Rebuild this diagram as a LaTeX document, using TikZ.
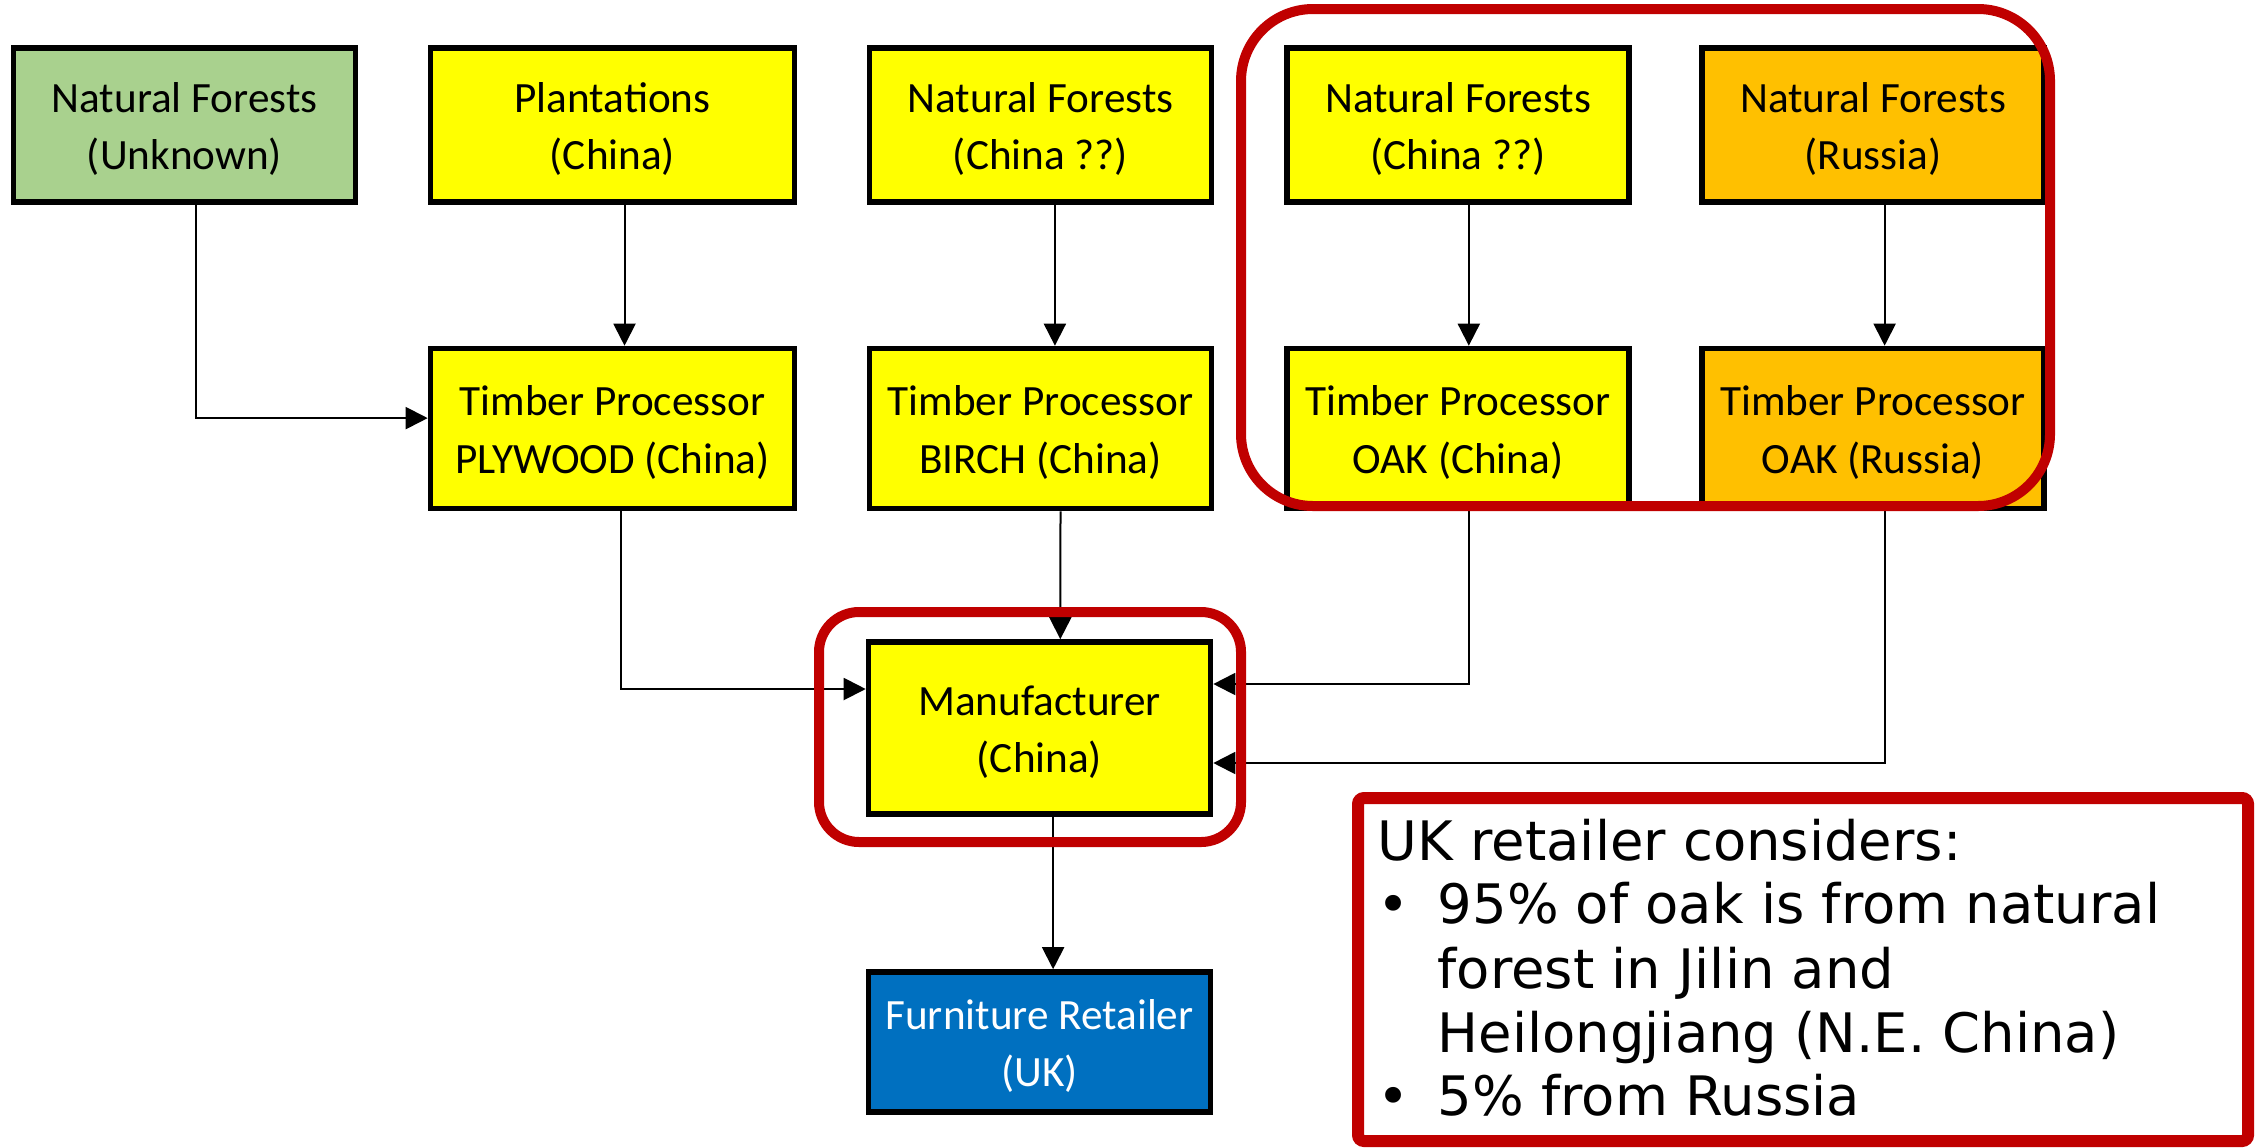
\documentclass[tikz,border=0pt]{standalone}
\usepackage{fontspec}
\setmainfont{Carlito}
\newfontfamily\infofont{DejaVu Sans}
\usetikzlibrary{arrows.meta,calc}
\definecolor{boxyellow}{HTML}{FFFF00}
\definecolor{boxgreen}{HTML}{A9D18E}
\definecolor{boxorange}{HTML}{FFC000}
\definecolor{boxblue}{HTML}{0070C0}
\definecolor{frame}{HTML}{C00000}
\newcommand{\twolines}[2]{\raisebox{-1.1pt}[\height][\depth]{\begin{tabular}{@{}c@{}}#1\\#2\end{tabular}}}
\begin{document}
\begin{tikzpicture}[x=0.25pt,y=-0.25pt,
  box/.style={draw=black, line width=1.4pt, inner sep=0pt,
    font=\fontsize{10.8}{14.4}\selectfont},
  colA/.style={minimum width=85.5pt, minimum height=38.6pt},
  colP/.style={minimum width=91pt, minimum height=38.6pt},
  rowT/.style={minimum height=40pt},
  arr/.style={line width=0.5pt, -{Triangle[length=5.5pt,width=5.5pt]}},
  redframe/.style={draw=frame, line width=2.5pt}]
\useasboundingbox (0,0) rectangle (2256,1147);
% top row
\node[box,colA,fill=boxgreen] (nfu) at (184.5,125) {\twolines{Natural Forests}{(Unknown)}};
\node[box,colP,fill=boxyellow] (plant) at (612.5,125) {\twolines{Plantations}{(China)}};
\node[box,colA,fill=boxyellow] (nfc1) at (1040.5,125) {\twolines{Natural Forests}{(China ??)}};
\node[box,colA,fill=boxyellow] (nfc2) at (1458,125) {\twolines{Natural Forests}{(China ??)}};
\node[box,colA,fill=boxorange] (nfr) at (1873,125) {\twolines{Natural Forests}{(Russia)}};
% processors
\node[box,colP,rowT,fill=boxyellow] (tpp) at (612.5,428.5) {\twolines{Timber Processor}{PLYWOOD (China)}};
\node[box,colA,rowT,fill=boxyellow] (tpb) at (1040.5,428.5) {\twolines{Timber Processor}{BIRCH (China)}};
\node[box,colA,rowT,fill=boxyellow] (tpoc) at (1458,428.5) {\twolines{Timber Processor}{OAK (China)}};
\node[box,colA,rowT,fill=boxorange] (tpor) at (1873,428.5) {\twolines{Timber Processor}{OAK (Russia)}};
% manufacturer and retailer
\node[box,colA,minimum height=43pt,fill=boxyellow] (man) at (1039.5,728) {\twolines{Manufacturer}{(China)}};
\node[box,colA,minimum height=35pt,fill=boxblue,text=white] (ret) at (1039.5,1042) {\twolines{Furniture Retailer}{(UK)}};
% connectors
\draw[arr] ([xshift=2.75pt]nfu.south) |- ([yshift=2.6pt]tpp.west);
\draw[arr] ([xshift=3pt]plant.south) -- ([xshift=3pt]tpp.north);
\draw[arr] ([xshift=3.6pt]nfc1.south) -- ([xshift=3.6pt]tpb.north);
\draw[arr] ([xshift=2.7pt]nfc2.south) -- ([xshift=2.7pt]tpoc.north);
\draw[arr] ([xshift=2.9pt]nfr.south) -- ([xshift=2.9pt]tpor.north);
\draw[arr] ([xshift=2.1pt]tpp.south) |- ([yshift=9.75pt]man.west);
\draw[arr] ([xshift=5pt]tpb.south) -- ([xshift=5.2pt]man.north);
\draw[arr] ([xshift=2.7pt]tpoc.south) |- ([yshift=11pt]man.east);
\draw[arr] ([xshift=2.9pt]tpor.south) |- ([yshift=-8.75pt]man.east);
\draw[arr] ([xshift=3.4pt]man.south) -- ([xshift=3.4pt]ret.north);
% red highlight frames
\draw[redframe, rounded corners=18pt] (1241,9) rectangle (2050,506);
\draw[redframe, rounded corners=10pt] (819,612) rectangle (1241,842);
% info box
\draw[draw=frame, line width=3pt, fill=white, rounded corners=1.5pt] (1358,798) rectangle (2248,1141);
\begin{scope}[every node/.style={anchor=base west, inner sep=0pt, font=\infofont\fontsize{13.6}{16}\selectfont}]
\node (i0) at (1377,860) {UK retailer considers:};
\node (b1) at (1377,923) {•};
\node (i1) at (1437,923) {95\% of oak is from natural};
\node (i2) at (1437,988) {forest in Jilin and};
\node (i3) at (1437,1052) {Heilongjiang (N.E. China)};
\node (b2) at (1377,1115) {•};
\node (i4) at (1437,1115) {5\% from Russia};
\end{scope}
\end{tikzpicture}
\end{document}
